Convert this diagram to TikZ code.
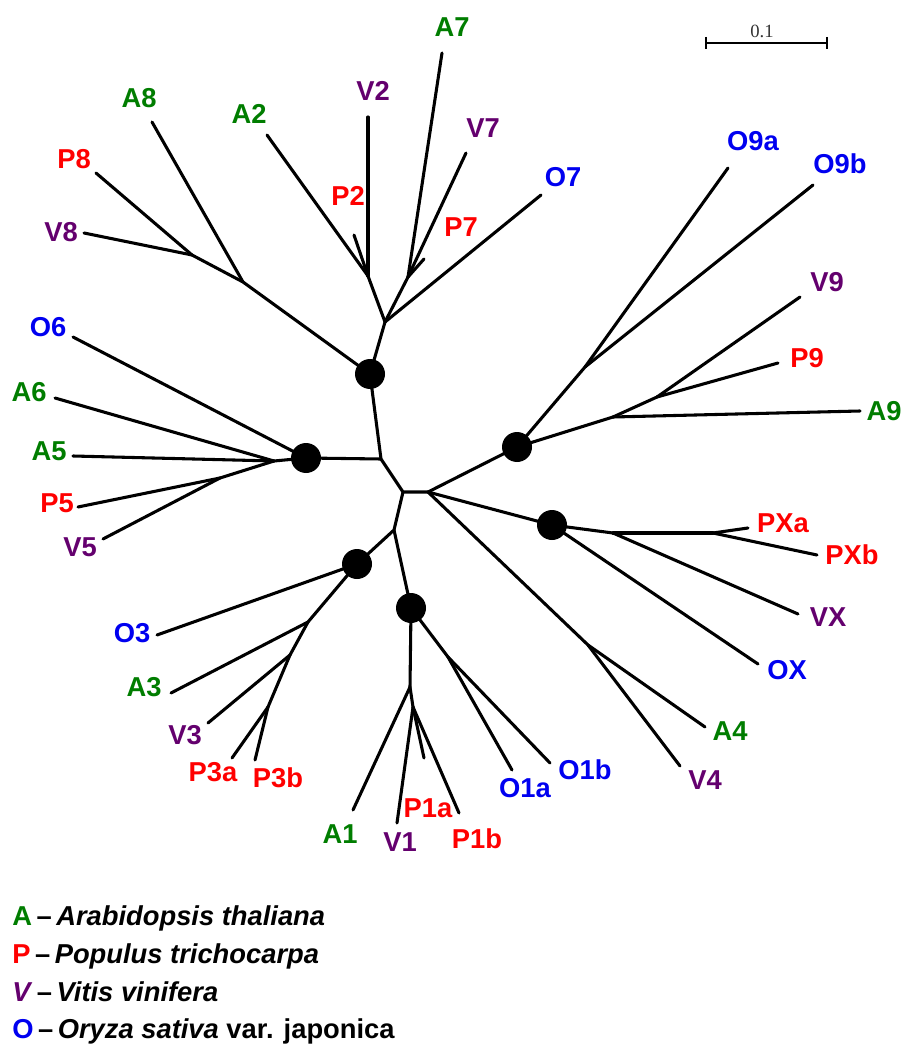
\documentclass[tikz,border=0pt]{standalone}
\usepackage{fontspec}
\usetikzlibrary{calc}
\setmainfont{Liberation Sans}
\newfontfamily\scalefont{Liberation Serif}
\definecolor{agreen}{RGB}{0,125,0}
\definecolor{pred}{RGB}{255,0,0}
\definecolor{vpurple}{RGB}{100,0,110}
\definecolor{oblue}{RGB}{0,0,240}
\begin{document}
\begin{tikzpicture}[x=0.75pt,y=-0.75pt,
  br/.style={line width=2.3pt, line cap=round, line join=round},
  dotn/.style={circle, fill=black, minimum size=22.5pt, inner sep=0pt},
  lab/.style={font=\fontsize{20.5}{24}\selectfont\bfseries, inner sep=0pt, anchor=center},
  la/.style={lab, text=agreen},
  lp/.style={lab, text=pred},
  lv/.style={lab, text=vpurple},
  lo/.style={lab, text=oblue},
  leg/.style={font=\fontsize{20.5}{24}\selectfont\bfseries, inner sep=0pt, anchor=base west}]
\useasboundingbox (0,0) rectangle (904,1044);

% internal points
\coordinate (Na) at (381,459);
\coordinate (Nb) at (403,492);
\coordinate (Nc) at (394,530);
\coordinate (Nd) at (428,492);
\coordinate (cU) at (370,374);
\coordinate (cL) at (306,458);
\coordinate (cR) at (517,447);
\coordinate (cX) at (552,525);
\coordinate (c3) at (357,564);
\coordinate (c1) at (411,608);
\coordinate (Jtop) at (385,322);
\coordinate (J2) at (368,276);
\coordinate (J7) at (408,277);
\coordinate (J8a) at (243,282);
\coordinate (J8b) at (192,255);
\coordinate (J56) at (274,461);
\coordinate (J5b) at (220,478);
\coordinate (J3a) at (308,622);
\coordinate (J3b) at (290,655);
\coordinate (J3c) at (268,707);
\coordinate (J1) at (410,687);
\coordinate (J1b) at (413,707);
\coordinate (J1o) at (448,657);
\coordinate (J9o) at (585,367);
\coordinate (J9a) at (613,417);
\coordinate (J9b) at (657,397);
\coordinate (JXv) at (613,533);
\coordinate (JXp) at (713,533);
\coordinate (J4) at (588,645);

% tips
\coordinate (tA7) at (442,53);
\coordinate (tV2) at (368,117);
\coordinate (tA2) at (267,135);
\coordinate (tP2) at (354,235);
\coordinate (tV7) at (466,153);
\coordinate (tP7) at (424,259);
\coordinate (tO7) at (541,195);
\coordinate (tA8) at (152,122);
\coordinate (tP8) at (96,173);
\coordinate (tV8) at (84,233);
\coordinate (tO6) at (73,337);
\coordinate (tA6) at (55,398);
\coordinate (tA5) at (73,456);
\coordinate (tP5) at (78,507);
\coordinate (tV5) at (103,539);
\coordinate (tO3) at (157,635);
\coordinate (tA3) at (171,693);
\coordinate (tV3) at (208,723);
\coordinate (tP3a) at (232,758);
\coordinate (tP3b) at (255,760);
\coordinate (tA1) at (353,810);
\coordinate (tV1) at (397,823);
\coordinate (tP1a) at (424,758);
\coordinate (tP1b) at (459,813);
\coordinate (tO1a) at (512,770);
\coordinate (tO1b) at (550,763);
\coordinate (tO9a) at (728,168);
\coordinate (tO9b) at (813,185);
\coordinate (tA9) at (860,411);
\coordinate (tV9) at (800,297);
\coordinate (tP9) at (778,363);
\coordinate (tPXa) at (748,528);
\coordinate (tPXb) at (817,555);
\coordinate (tVX) at (798,614);
\coordinate (tOX) at (758,664);
\coordinate (tA4) at (705,727);
\coordinate (tV4) at (680,766);

% backbone
\draw[br] (cU) -- (Na) -- (Nb) -- (Nd);
\draw[br] (Na) -- (cL);
\draw[br] (Nb) -- (Nc) -- (c3);
\draw[br] (Nc) -- (c1);
\draw[br] (Nd) -- (cR);
\draw[br] (Nd) -- (cX);
\draw[br] (Nd) -- (J4);

% top clade
\draw[br] (cU) -- (Jtop);
\draw[br] (Jtop) -- (J2);
\draw[br] (J2) -- (tV2);
\draw[br] (J2) -- (tA2);
\draw[br] (J2) -- (tP2);
\draw[br] (Jtop) -- (J7);
\draw[br] (J7) -- (tA7);
\draw[br] (J7) -- (tV7);
\draw[br] (J7) -- (tP7);
\draw[br] (Jtop) -- (tO7);
\draw[br] (cU) -- (J8a) -- (J8b);
\draw[br] (J8a) -- (tA8);
\draw[br] (J8b) -- (tP8);
\draw[br] (J8b) -- (tV8);

% left clade
\draw[br] (cL) -- (tO6);
\draw[br] (cL) -- (J56);
\draw[br] (J56) -- (tA6);
\draw[br] (J56) -- (tA5);
\draw[br] (J56) -- (J5b);
\draw[br] (J5b) -- (tP5);
\draw[br] (J5b) -- (tV5);

% O3 clade
\draw[br] (c3) -- (tO3);
\draw[br] (c3) -- (J3a);
\draw[br] (J3a) -- (tA3);
\draw[br] (J3a) -- (J3b);
\draw[br] (J3b) -- (tV3);
\draw[br] (J3b) -- (J3c);
\draw[br] (J3c) -- (tP3a);
\draw[br] (J3c) -- (tP3b);

% P1 clade
\draw[br] (c1) -- (J1);
\draw[br] (J1) -- (tA1);
\draw[br] (J1) -- (J1b);
\draw[br] (J1b) -- (tV1);
\draw[br] (J1b) -- (tP1a);
\draw[br] (J1b) -- (tP1b);
\draw[br] (c1) -- (J1o);
\draw[br] (J1o) -- (tO1a);
\draw[br] (J1o) -- (tO1b);

% right clade 9
\draw[br] (cR) -- (J9o);
\draw[br] (J9o) -- (tO9a);
\draw[br] (J9o) -- (tO9b);
\draw[br] (cR) -- (J9a);
\draw[br] (J9a) -- (tA9);
\draw[br] (J9a) -- (J9b);
\draw[br] (J9b) -- (tV9);
\draw[br] (J9b) -- (tP9);

% X clade
\draw[br] (cX) -- (JXv);
\draw[br] (JXv) -- (tVX);
\draw[br] (JXv) -- (JXp);
\draw[br] (JXp) -- (tPXa);
\draw[br] (JXp) -- (tPXb);
\draw[br] (cX) -- (tOX);

% 4 clade
\draw[br] (J4) -- (tA4);
\draw[br] (J4) -- (tV4);

% dots
\node[dotn] (dU) at (cU) {};
\node[dotn] (dL) at (cL) {};
\node[dotn] (dR) at (cR) {};
\node[dotn] (dX) at (cX) {};
\node[dotn] (d3) at (c3) {};
\node[dotn] (d1) at (c1) {};

% labels
\node[la] (lA7) at (452,27) {A7};
\node[lv] (lV2) at (373,91) {V2};
\node[la] (lA8) at (139,98) {A8};
\node[la] (lA2) at (249,114) {A2};
\node[lv] (lV7) at (483,128) {V7};
\node[lp] (lP8) at (74,159) {P8};
\node[lp] (lP2) at (348,196) {P2};
\node[lo] (lO7) at (563,177) {O7};
\node[lp] (lP7) at (461,227) {P7};
\node[lv] (lV8) at (61,232) {V8};
\node[lo] (lO6) at (48,327) {O6};
\node[la] (lA6) at (29,392) {A6};
\node[la] (lA5) at (49,451) {A5};
\node[lp] (lP5) at (57,503) {P5};
\node[lv] (lV5) at (80,547) {V5};
\node[lo] (lO9a) at (753,141) {O9a};
\node[lo] (lO9b) at (840,164) {O9b};
\node[lv] (lV9) at (827,282) {V9};
\node[lp] (lP9) at (807,358) {P9};
\node[la] (lA9) at (884,411) {A9};
\node[lp] (lPXa) at (783,523) {PXa};
\node[lp] (lPXb) at (852,555) {PXb};
\node[lv] (lVX) at (828,617) {VX};
\node[lo] (lOX) at (787,670) {OX};
\node[la] (lA4) at (730,731) {A4};
\node[lv] (lV4) at (705,780) {V4};
\node[lo] (lO3) at (132,633) {O3};
\node[la] (lA3) at (144,687) {A3};
\node[lv] (lV3) at (185,735) {V3};
\node[lp] (lP3a) at (213,772) {P3a};
\node[lp] (lP3b) at (278,778) {P3b};
\node[la] (lA1) at (340,834) {A1};
\node[lv] (lV1) at (400,842) {V1};
\node[lp] (lP1a) at (428,808) {P1a};
\node[lp] (lP1b) at (477,839) {P1b};
\node[lo] (lO1a) at (525,788) {O1a};
\node[lo] (lO1b) at (585,770) {O1b};

% scale bar
\coordinate (sb1) at (706,43);
\coordinate (sb2) at (827,43);
\draw[line width=1.5pt] (sb1) -- (sb2);
\draw[line width=1.5pt] ($(sb1)+(0,-6)$) -- ($(sb1)+(0,6)$);
\draw[line width=1.5pt] ($(sb2)+(0,-6)$) -- ($(sb2)+(0,6)$);
\node[inner sep=0pt, font=\scalefont\fontsize{14}{16}\selectfont, text=black!80] (sbl) at (762,31) {0.1};

% legend
\node[leg] (legA) at (12,925) {\textcolor{agreen}{A}\,\textendash\,\textit{Arabidopsis thaliana}};
\node[leg] (legP) at (12,963) {\textcolor{pred}{P}\,\textendash\,\textit{Populus trichocarpa}};
\node[leg] (legV) at (12,1001) {\textcolor{vpurple}{\textit{V}}\,\textendash\,\textit{Vitis vinifera}};
\node[leg] (legO) at (12,1038) {\textcolor{oblue}{O}\,\textendash\,\textit{Oryza sativa} var. japonica};
\end{tikzpicture}
\end{document}
